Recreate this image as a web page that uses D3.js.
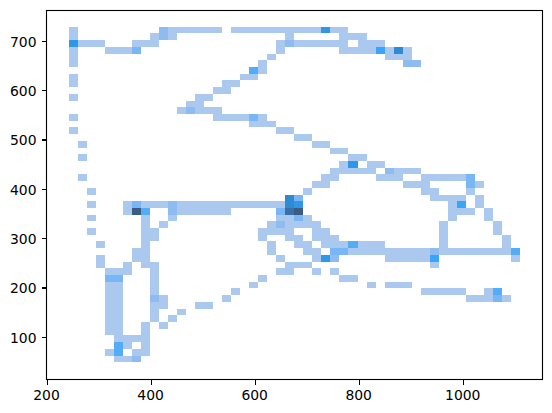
<!DOCTYPE html>
<html><head><meta charset="utf-8">
<script src="https://cdn.jsdelivr.net/npm/d3@7/dist/d3.min.js"></script>
<style>html,body{margin:0;padding:0;background:#fff}svg{display:block}
text{font-family:"DejaVu Sans",sans-serif;font-size:13.9px;fill:#000}</style>
</head><body><svg id="c" width="552" height="413"></svg>
<script>
// Bivariate histogram, 50 x 50 bins. Each row lists "firstBin-lastBin:count" runs; rows run from the top (high y) down.
const xBins = 50, yBins = 50;
const xRange = [241.7, 1108];
const yRange = [49.6, 729.6];
const xTicks = [200, 400, 600, 800, 1000];
const yTicks = [100, 200, 300, 400, 500, 600, 700];
const countLevels = [1, 2, 3, 4, 5, 6, 7, 8, 9];
const levelColors = ["#abc9ef", "#8fbcf0", "#78b6f6", "#52acf8", "#36a5fa", "#2e98e6", "#2e8bd2", "#3a70a5", "#3d5a80"];
const rowRuns = [
 "0-0:1 10-10:2 11-16:1 18-27:1 28-28:6 29-30:1",
 "0-0:1 9-9:1 10-10:2 11-11:1 24-24:1 30-32:1",
 "0-0:6 1-3:1 7-9:1 23-23:1 24-24:2 25-30:1 32-34:1",
 "0-0:1 4-6:1 7-7:3 23-23:1 30-33:1 34-34:5 35-35:1 36-36:7 37-37:1",
 "0-0:1 22-22:1 35-37:1",
 "0-0:1 21-21:1 37-38:2",
 "20-20:4 21-21:1",
 "0-0:1 19-20:1",
 "0-0:1 17-18:1",
 "16-17:1",
 "0-0:1 14-15:1",
 "13-14:1",
 "12-12:1 13-13:2 14-16:1",
 "0-0:1 16-19:1 20-20:3 21-21:1",
 "20-22:1",
 "0-0:1 23-24:1",
 "25-26:1",
 "1-1:1 27-28:1",
 "29-30:1",
 "1-1:1 31-32:1",
 "30-30:1 31-31:6 33-34:1",
 "29-33:1 35-35:2 36-38:1",
 "1-1:1 28-29:1 34-36:1 39-43:1 44-44:3",
 "27-28:1 37-39:1 44-44:3 45-45:1",
 "2-2:1 26-26:1 39-40:1 44-44:1",
 "24-24:7 25-25:3 40-43:1 45-45:1",
 "2-2:1 6-6:1 7-7:3 8-10:1 11-11:2 12-23:1 24-24:7 25-25:6 42-42:1 43-43:5 45-45:1",
 "6-6:1 7-7:9 8-8:4 11-11:2 12-17:1 23-23:3 24-24:8 25-25:9 42-44:1 46-46:1",
 "2-2:1 8-8:1 11-11:1 23-24:1 25-25:3 26-26:1 42-42:1 46-46:1",
 "8-8:1 10-10:1 22-22:1 23-23:2 24-27:1 41-41:1 47-47:1",
 "2-2:1 8-9:1 21-24:1 27-28:1 41-41:1 47-47:1",
 "8-9:1 21-21:1 24-25:1 27-29:1 41-41:1 48-48:1",
 "3-3:1 8-8:1 22-22:1 25-26:1 28-30:1 31-31:4 32-34:1 41-41:1 48-48:1",
 "7-8:1 22-22:1 26-27:1 29-30:3 31-39:1 40-40:2 41-48:1 49-49:4",
 "3-3:1 7-8:1 23-23:1 27-27:1 28-28:6 29-29:2 35-39:1 40-40:5 49-49:1",
 "3-3:1 6-6:1 8-9:1 24-26:1 40-40:1",
 "4-6:1 9-9:1 23-24:1 27-27:1 29-29:1",
 "4-5:3 9-9:1 21-21:1 30-31:1",
 "4-5:1 9-9:1 20-20:1 33-33:1 35-37:1",
 "4-5:1 9-9:1 18-18:1 39-43:1 46-46:1 47-47:4",
 "4-5:1 9-9:2 10-10:1 17-17:1 44-46:1 47-47:3 48-48:1",
 "4-5:1 9-10:1 14-15:1",
 "4-5:1 9-9:1 12-12:1",
 "4-5:1 9-9:1 11-11:1",
 "4-5:1 8-8:1 10-10:1",
 "4-5:1 8-8:1",
 "5-8:1",
 "5-5:4 6-6:1 8-8:1",
 "4-4:1 5-5:4 7-8:1",
 "5-6:1 7-7:2"
];

const L = 46.5, R = 542.3, T = 10, B = 379;
const xPad = (xRange[1] - xRange[0]) * 0.05, yPad = (yRange[1] - yRange[0]) * 0.05;
const x = d3.scaleLinear().domain([xRange[0] - xPad, xRange[1] + xPad]).range([L, R]);
const y = d3.scaleLinear().domain([yRange[0] - yPad, yRange[1] + yPad]).range([B, T]);
const color = d3.scaleOrdinal().domain(countLevels).range(levelColors);
const xw = (xRange[1] - xRange[0]) / xBins, yh = (yRange[1] - yRange[0]) / yBins;

const cells = [];
rowRuns.forEach((row, r) => row.split(" ").forEach(run => {
  const [span, count] = run.split(":");
  const [a, b] = span.split("-").map(Number);
  d3.range(a, b + 1).forEach(c => cells.push({
    x0: xRange[0] + c * xw, x1: xRange[0] + (c + 1) * xw,
    y1: yRange[1] - r * yh, y0: yRange[1] - (r + 1) * yh, count: +count
  }));
}));

const svg = d3.select("#c");
svg.append("g").selectAll("rect").data(cells).join("rect")
  .attr("x", d => x(d.x0)).attr("width", d => x(d.x1) - x(d.x0))
  .attr("y", d => y(d.y1)).attr("height", d => y(d.y0) - y(d.y1))
  .attr("fill", d => color(d.count)).attr("shape-rendering", "crispEdges");

const gx = svg.append("g").attr("transform", `translate(0,${B + 0.5})`)
  .call(d3.axisBottom(x).offset(0).tickValues(xTicks).tickFormat(d3.format("d")).tickSizeOuter(0).tickSize(5).tickPadding(5.5));
const gy = svg.append("g").attr("transform", `translate(${L},0)`)
  .call(d3.axisLeft(y).offset(0).tickValues(yTicks).tickFormat(d3.format("d")).tickSizeOuter(0).tickSize(5).tickPadding(5));
gx.select(".domain").remove(); gy.select(".domain").remove();
svg.selectAll(".tick line").attr("stroke", "#000").attr("stroke-width", 1.1).attr("shape-rendering", "crispEdges");
svg.selectAll(".tick text").attr("font-size", 13.9).attr("font-family", '"DejaVu Sans"');
gy.selectAll(".tick text").attr("dy", "0.37em");
gx.selectAll(".tick text").attr("dx", "-0.06em");
svg.append("rect").attr("x", 46.5).attr("y", 10.5).attr("width", 496).attr("height", 369)
  .attr("fill", "none").attr("stroke", "#000").attr("stroke-width", 1.1);
</script></body></html>
